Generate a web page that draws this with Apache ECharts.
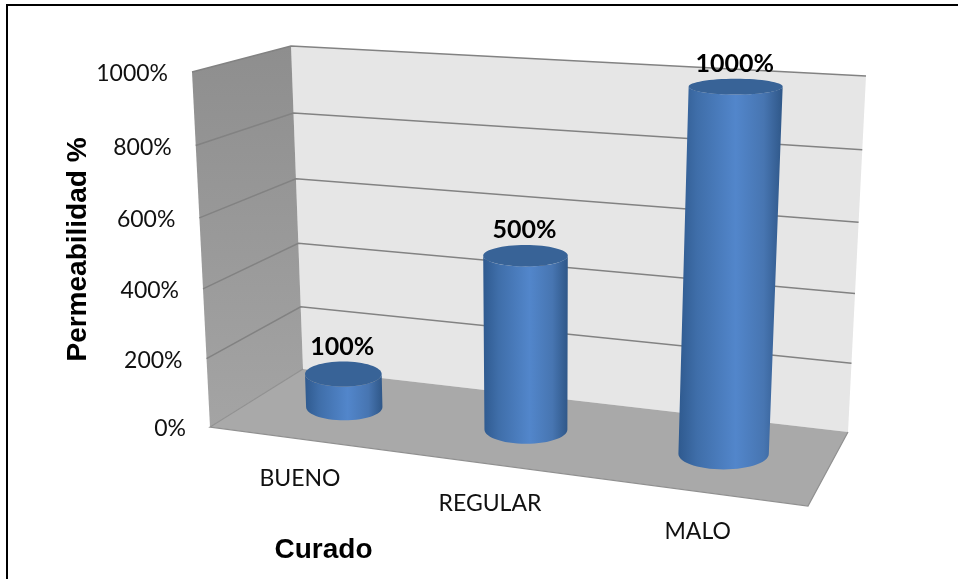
<!DOCTYPE html>
<html>
<head>
<meta charset="utf-8">
<style>html,body{margin:0;padding:0;background:#fff}#chart{width:958px;height:579px}</style>
<script src="https://cdn.jsdelivr.net/npm/echarts@6/dist/echarts.min.js"></script>
</head>
<body>
<div id="chart"></div>
<script>
// Chart content
const categories = ['BUENO', 'REGULAR', 'MALO'];
const permeability = [100, 500, 1000];
const tickValues = [0, 200, 400, 600, 800, 1000];
const xTitle = 'Curado';
const yTitle = 'Permeabilidad %';

// Corners of the 3D chamber on screen: F/B = front/back, L/R = left/right
const box = {
  floor: { FL: [210, 427], BL: [303, 369], BR: [848, 432], FR: [808, 506] },
  roof:  { FL: [192, 72],  BL: [291, 46],  BR: [866, 76],  FR: [850, 115] }
};
const radiusU = 0.073, radiusD = 0.22;

const lerp = (a, b, t) => [a[0] + (b[0] - a[0]) * t, a[1] + (b[1] - a[1]) * t];

// Projective map of the unit square onto a quad
function squareToQuad(p00, p10, p11, p01, u, d) {
  const sx = p00[0] - p10[0] + p11[0] - p01[0], sy = p00[1] - p10[1] + p11[1] - p01[1];
  const dx1 = p10[0] - p11[0], dx2 = p01[0] - p11[0], dy1 = p10[1] - p11[1], dy2 = p01[1] - p11[1];
  const den = dx1 * dy2 - dx2 * dy1;
  const g = (sx * dy2 - dx2 * sy) / den, h = (dx1 * sy - sx * dy1) / den;
  const a = p10[0] - p00[0] + g * p10[0], b = p01[0] - p00[0] + h * p01[0];
  const c = p10[1] - p00[1] + g * p10[1], e = p01[1] - p00[1] + h * p01[1];
  const w = g * u + h * d + 1;
  return [(a * u + b * d + p00[0]) / w, (c * u + e * d + p00[1]) / w];
}

// u: along the category axis, v: up the value axis, d: depth (0 front, 1 back)
function project(u, v, d) {
  const t = v - 0.045 * v * (1 - v);
  const at = k => lerp(box.floor[k], box.roof[k], t);
  return squareToQuad(at('FL'), at('FR'), at('BR'), at('BL'), u, d);
}

// Flat grid position -> unit coordinates of the chamber
function toUnit(pt, cs) {
  return { u: (pt[0] - cs.x) / cs.width, v: (cs.y + cs.height - pt[1]) / cs.height };
}

const fill3d = (pts, style) => ({ type: 'polygon', shape: { points: pts }, style, silent: true });

function renderChamber() {
  return {
    type: 'group',
    children: [
      fill3d([project(0, 0, 1), project(1, 0, 1), project(1, 1, 1), project(0, 1, 1)], { fill: '#e6e6e6' }),
      fill3d([project(0, 0, 0), project(0, 0, 1), project(0, 1, 1), project(0, 1, 0)], {
        fill: { type: 'linear', x: 0, y: 0, x2: 0, y2: 1, colorStops: [{ offset: 0, color: '#8e8e8e' }, { offset: 1, color: '#a4a4a4' }] }
      }),
      fill3d([project(0, 0, 0), project(1, 0, 0), project(1, 0, 1), project(0, 0, 1)], { fill: '#a9a9a9' }),
      { type: 'polyline', shape: { points: [project(0, 0, 1), project(0, 0, 0), project(1, 0, 0), project(1, 0, 1)] }, style: { stroke: '#909090', lineWidth: 1.2, fill: null } },
      { type: 'text', style: { text: xTitle, x: 323.5, y: 550, align: 'center', verticalAlign: 'middle', font: 'bold 28px "Liberation Sans"', fill: '#000' } }
    ]
  };
}

function renderTick(params, api) {
  const cs = params.coordSys;
  const value = api.value(0);
  const { v } = toUnit(api.coord([0, value]), cs);
  const front = project(0, v, 0);
  const children = [{
    type: 'text',
    style: { text: value + '%', x: front[0] - 24, y: front[1] + 2, align: 'right', verticalAlign: 'middle', font: '23px Lato', fill: '#111' }
  }];
  if (value > 0) {
    children.push({
      type: 'polyline',
      shape: { points: [front, project(0, v, 1), project(1, v, 1)] },
      style: { stroke: '#828282', lineWidth: 1.5, fill: null }
    });
  }
  return { type: 'group', children };
}

// Ellipse outline of a cylinder section, kept level on screen
function section(u, v, d) {
  const c = project(u, v, d);
  const rx = (project(u + radiusU, 0, d)[0] - project(u - radiusU, 0, d)[0]) / 2 * (1 + 0.04 * v);
  const ry = Math.abs(project(u, v, d + radiusD)[1] - project(u, v, d - radiusD)[1]) / 2;
  return { cx: c[0], cy: c[1], rx, ry };
}

function renderCylinder(params, api) {
  const cs = params.coordSys;
  const i = api.value(0), value = api.value(1);
  const topPt = toUnit(api.coord([i, value]), cs);
  const top = section(topPt.u, topPt.v, 0.5);
  const base = section(topPt.u, 0, 0.5);
  const body = [];
  body.push([top.cx - top.rx, top.cy]);
  for (let a = 180; a >= 0; a -= 6) {
    const r = a * Math.PI / 180;
    body.push([base.cx + base.rx * Math.cos(r), base.cy + base.ry * Math.sin(r)]);
  }
  body.push([top.cx + top.rx, top.cy]);
  for (let a = 0; a <= 180; a += 6) {
    const r = a * Math.PI / 180;
    body.push([top.cx + top.rx * Math.cos(r), top.cy + top.ry * Math.sin(r)]);
  }
  const foot = project(topPt.u, 0, 0);
  return {
    type: 'group',
    children: [
      fill3d(body, {
        fill: {
          type: 'linear', x: 0, y: 0, x2: 1, y2: 0,
          colorStops: [
            { offset: 0, color: '#2f5a8f' }, { offset: 0.18, color: '#3f6ea9' },
            { offset: 0.55, color: '#5286cb' }, { offset: 0.82, color: '#4775b1' },
            { offset: 1, color: '#2f5788' }
          ]
        }
      }),
      { type: 'ellipse', shape: { cx: top.cx, cy: top.cy, rx: top.rx, ry: top.ry }, style: { fill: '#386397' } },
      { type: 'text', style: { text: value + '%', x: top.cx - 1, y: top.cy - top.ry - 15, align: 'center', verticalAlign: 'middle', font: 'bold 25px Lato', fill: '#000' } },
      { type: 'text', style: { text: categories[i], x: foot[0] + 1, y: foot[1] + 40, align: 'center', verticalAlign: 'middle', font: '23px Lato', fill: '#111' } }
    ]
  };
}

const chart = echarts.init(document.getElementById('chart'), null, { renderer: 'canvas' });
chart.setOption({
  animation: false,
  backgroundColor: '#ffffff',
  graphic: [{
    type: 'rect', shape: { x: 7, y: 5, width: 980, height: 600 },
    style: { fill: null, stroke: '#000', lineWidth: 2 }, silent: true
  }],
  grid: { left: 210, right: 150, top: 72, bottom: 152 },
  xAxis: {
    type: 'category', data: categories,
    axisLine: { show: false }, axisTick: { show: false }, axisLabel: { show: false }, splitLine: { show: false }
  },
  yAxis: {
    type: 'value', min: 0, max: 1000, interval: 200,
    name: yTitle, nameLocation: 'middle', nameRotate: 90, nameGap: 118,
    nameTextStyle: { fontFamily: 'Liberation Sans', fontWeight: 'bold', fontSize: 28, color: '#000' },
    axisLine: { show: false }, axisTick: { show: false }, axisLabel: { show: false }, splitLine: { show: false }
  },
  series: [
    { type: 'custom', coordinateSystem: 'cartesian2d', clip: false, silent: true, data: [[0, 0]], encode: { x: 0, y: 1 }, renderItem: renderChamber },
    { type: 'custom', coordinateSystem: 'cartesian2d', clip: false, silent: true, data: tickValues.map(t => [t]), encode: { y: 0 }, renderItem: renderTick },
    { type: 'custom', coordinateSystem: 'cartesian2d', clip: false, silent: true, data: permeability.map((p, i) => [i, p]), encode: { x: 0, y: 1 }, renderItem: renderCylinder }
  ]
});
</script>
</body>
</html>
